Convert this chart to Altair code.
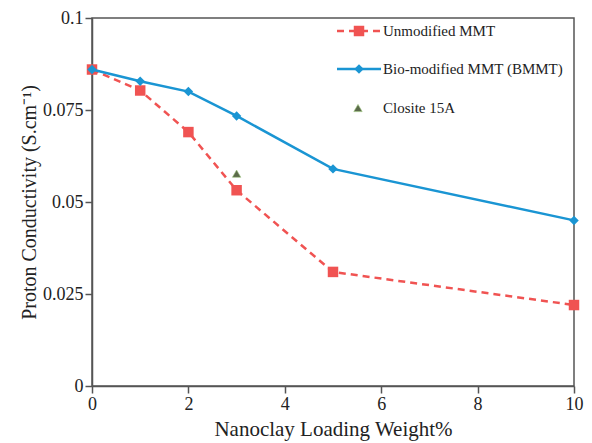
import altair as alt
import pandas as pd

loading = [0, 1, 2, 3, 5, 10]
unmodified = [0.086, 0.0803, 0.069, 0.0532, 0.031, 0.022]
bmmt = [0.086, 0.0828, 0.080, 0.0734, 0.059, 0.045]
closite_x = [3]
closite_y = [0.0577]

series_names = ["Unmodified MMT", "Bio-modified MMT (BMMT)", "Closite 15A"]
RED = "#F05352"
BLUE = "#1A95D3"
OLIVE = "#5B6A4A"
FONT = "Liberation Serif"

df_u = pd.DataFrame({"x": loading, "y": unmodified})
df_b = pd.DataFrame({"x": loading, "y": bmmt})
df_c = pd.DataFrame({"x": closite_x, "y": closite_y})

xs = alt.X("x:Q", scale=alt.Scale(domain=[0, 10], nice=False),
           axis=alt.Axis(values=[0, 2, 4, 6, 8, 10], format="d", labelFlush=False,
                         title="Nanoclay Loading Weight%"))
ys = alt.Y("y:Q", scale=alt.Scale(domain=[0, 0.1], nice=False),
           axis=alt.Axis(values=[0, 0.025, 0.05, 0.075, 0.1], format=".3~f", labelFlush=False,
                         title="Proton Conductivity (S.cm⁻¹)"))

red_line = alt.Chart(df_u).mark_line(color=RED, strokeWidth=2.5, strokeDash=[7, 5]).encode(x=xs, y=ys)
red_pts = alt.Chart(df_u).mark_point(shape="square", filled=True, color=RED, size=110, opacity=1).encode(x=xs, y=ys)
blue_line = alt.Chart(df_b).mark_line(color=BLUE, strokeWidth=2.5).encode(x=xs, y=ys)
blue_pts = alt.Chart(df_b).mark_point(shape="diamond", filled=True, color=BLUE, size=90, opacity=1).encode(x=xs, y=ys)
tri = alt.Chart(df_c).mark_point(shape="triangle-up", filled=True, color=OLIVE, size=70, opacity=1,
                                 stroke="#9BC27A", strokeWidth=0.6).encode(x=xs, y=ys)

# legend (drawn manually)
leg_df = pd.DataFrame({"label": series_names})
def leg_text(i, yy):
    return alt.Chart(leg_df.iloc[[i]]).mark_text(align="left", baseline="middle", font=FONT,
                                                  fontSize=15, color="#222").encode(
        text="label:N", x=alt.value(291), y=alt.value(yy))

l1_line = alt.Chart(leg_df.iloc[[0]]).mark_rule(color=RED, strokeWidth=2.5, strokeDash=[7, 5]).encode(
    x=alt.value(245), x2=alt.value(289), y=alt.value(13))
l1_pt = alt.Chart(leg_df.iloc[[0]]).mark_point(shape="square", filled=True, color=RED, size=110, opacity=1).encode(
    x=alt.value(267), y=alt.value(13))
l2_line = alt.Chart(leg_df.iloc[[1]]).mark_rule(color=BLUE, strokeWidth=2.5).encode(
    x=alt.value(245), x2=alt.value(289), y=alt.value(51))
l2_pt = alt.Chart(leg_df.iloc[[1]]).mark_point(shape="diamond", filled=True, color=BLUE, size=90, opacity=1).encode(
    x=alt.value(267), y=alt.value(51))
l3_pt = alt.Chart(leg_df.iloc[[2]]).mark_point(shape="triangle-up", filled=True, color=OLIVE, size=70, opacity=1,
                                               stroke="#9BC27A", strokeWidth=0.6).encode(
    x=alt.value(266), y=alt.value(90))

chart = alt.layer(
    red_line, red_pts, blue_line, blue_pts, tri,
    l1_line, l1_pt, leg_text(0, 13), l2_line, l2_pt, leg_text(1, 51), l3_pt, leg_text(2, 90)
).properties(
    width=482, height=368,
    autosize=alt.AutoSizeParams(type="none"),
    padding={"left": 84, "top": 10, "right": 10, "bottom": 57},
).configure_view(
    stroke="#555", strokeWidth=1.5
).configure_axis(
    grid=False, domainColor="#555", domainWidth=1.5, tickColor="#555", tickWidth=1.5, tickSize=7,
    labelFont=FONT, labelFontSize=18, labelColor="#222", labelPadding=2,
    titleFont=FONT, titleFontWeight="normal", titleColor="#222",
).configure_axisX(titlePadding=5, titleFontSize=21).configure_axisY(titlePadding=3, titleFontSize=20)

chart.save("out.html", embed_options={"renderer": "svg", "actions": False})
